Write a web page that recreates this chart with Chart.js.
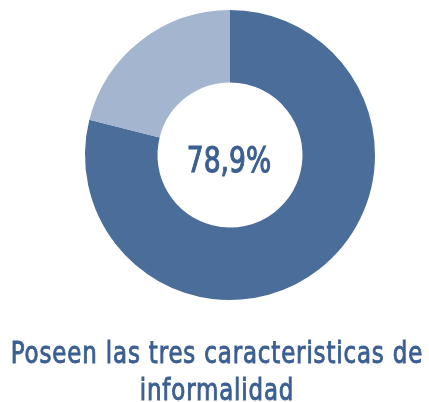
<!DOCTYPE html>
<html>
<head>
<meta charset="utf-8">
<script src="https://cdn.jsdelivr.net/npm/chart.js@4"></script>
<style>
  html, body { margin: 0; padding: 0; background: #fff; }
  #wrap { width: 429px; height: 402px; }
</style>
</head>
<body>
<div id="wrap"><canvas id="donut"></canvas></div>
<script>
const categorias = ['Poseen las tres caracteristicas', 'Resto'];
const valores = [78.9, 21.1];
const colores = ['#4a6d9a', '#a3b5cf'];
const etiquetaCentro = '78,9%';
const titulo = ['Poseen las tres caracteristicas de', 'informalidad'];

const fuente = '"DejaVu Sans Condensed", sans-serif';
const colorTexto = '#3b5f92';

// dibuja texto algo estrechado (la fuente original es tipo DIN)
function textoEstrecho(ctx, txt, x, y, size, escala, espacio, grosor) {
  ctx.save();
  ctx.font = size + 'px ' + fuente;
  ctx.letterSpacing = espacio + 'px';
  ctx.fillStyle = colorTexto;
  ctx.strokeStyle = colorTexto;
  ctx.lineWidth = grosor;
  ctx.textAlign = 'center';
  ctx.textBaseline = 'alphabetic';
  ctx.translate(x, y);
  ctx.scale(escala, 1);
  ctx.fillText(txt, 0, 0);
  ctx.strokeText(txt, 0, 0);
  ctx.restore();
}

const textos = {
  id: 'textos',
  afterDraw(chart) {
    const arc = chart.getDatasetMeta(0).data[0];
    if (!arc) return;
    const ctx = chart.ctx;
    textoEstrecho(ctx, etiquetaCentro, arc.x - 1, arc.y + 17, 36, 0.82, 0, 1.1);
    textoEstrecho(ctx, titulo[0], 217, 363, 30, 0.85, 1, 0.9);
    textoEstrecho(ctx, titulo[1], 217, 400, 30, 0.85, 1, 0.9);
  }
};

new Chart(document.getElementById('donut'), {
  type: 'doughnut',
  data: {
    labels: categorias,
    datasets: [{
      data: valores,
      backgroundColor: colores,
      borderWidth: 0
    }]
  },
  options: {
    responsive: true,
    maintainAspectRatio: false,
    animation: false,
    cutout: '50%',
    layout: { padding: { top: 10, left: 31, right: 0, bottom: 102 } },
    plugins: {
      legend: { display: false },
      tooltip: { enabled: false },
      title: { display: false }
    },
    events: []
  },
  plugins: [textos]
});
</script>
</body>
</html>
